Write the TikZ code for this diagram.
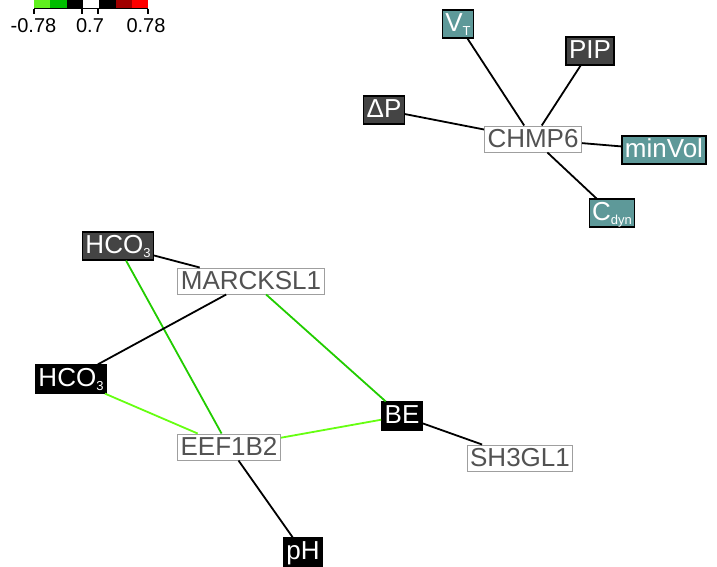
\documentclass[tikz,border=0pt]{standalone}
\usepackage{fontspec}
\setmainfont{Liberation Sans}
\usepackage{xcolor}
\usetikzlibrary{positioning}

\definecolor{trtealfill}{RGB}{94,153,153}
\definecolor{trdarkfill}{RGB}{68,68,68}
\definecolor{corrneg}{RGB}{34,204,0}
\definecolor{corrnegweak}{RGB}{102,255,17}
\definecolor{scalegreen}{RGB}{96,240,30}
\definecolor{scaledgreen}{RGB}{0,190,0}
\definecolor{scaledred}{RGB}{160,0,0}
\definecolor{scalered}{RGB}{255,0,0}

% lowered subscript for trait names
\newcommand{\lsub}[1]{\raisebox{-4.5pt}{\fontsize{13}{13}\selectfont #1}}

\begin{document}
\begin{tikzpicture}[
x=1pt, y=-1pt,
lbl/.style={font=\fontsize{26}{26}\selectfont, inner xsep=3pt, inner ysep=2pt, text height=19pt},
gene/.style={lbl, draw=gray!75, fill=white, text=black!68, line width=1pt, text depth=3pt},
trait/.style={lbl, draw=black, text=white, line width=1.2pt, text depth=5pt},
trdark/.style={trait, fill=trdarkfill},
trblack/.style={trait, fill=black},
trteal/.style={trait, fill=trtealfill},
link/.style={line width=1.8pt},
tick/.style={font=\fontsize{20}{20}\selectfont, anchor=base, inner sep=0pt}
]
\useasboundingbox (0,0) rectangle (717,566);

% colour scale
\foreach \col [count=\i from 0] in {scalegreen,scaledgreen,black,white,black,scaledred,scalered}
  \fill[\col] ({34+\i*16.3},-2) rectangle ({34+(\i+1)*16.3},8);
\draw[line width=1.2pt] (34,8.5) -- (148,8.5);
\foreach \tx in {34,82,98,148}
  \draw[line width=1.2pt] (\tx,8.5) -- (\tx,14);
\node[tick] (tmin) at (33.5,32) {-0.78};
\node[tick] (tmid) at (90,32) {0.7};
\node[tick] (tmax) at (146,32) {0.78};

% CHMP6 module
\node[gene] (chmp6) at (533,139) {CHMP6};
\node[trteal] (vt) at (458,24) {V\lsub{T}};
\node[trdark] (pip) at (590,51) {PIP};
\node[trdark] (dp) at (384,110) {ΔP};
\node[trteal] (minvol) at (664,150) {minVol};
\node[trteal] (cdyn) at (612,213) {C\lsub{dyn}};

\draw[link] (vt) -- (chmp6);
\draw[link] (pip) -- (chmp6);
\draw[link] (dp) -- (chmp6);
\draw[link] (minvol) -- (chmp6);
\draw[link] (cdyn) -- (chmp6);

% MARCKSL1 / EEF1B2 module
\node[trdark] (hco3a) at (118,246) {HCO\lsub{3}};
\node[gene] (marcksl1) at (251,281) {MARCKSL1};
\node[trblack] (hco3b) at (71,379) {HCO\lsub{3}};
\node[gene] (eef1b2) at (229,447) {EEF1B2};
\node[trblack] (be) at (402,416) {BE};
\node[gene] (sh3gl1) at (520,458) {SH3GL1};
\node[trblack] (ph) at (303,552) {pH};

\draw[link] (hco3a) -- (marcksl1);
\draw[link, corrneg] (hco3a) -- (eef1b2);
\draw[link] (marcksl1) -- (hco3b);
\draw[link, corrneg] (marcksl1) -- (be);
\draw[link, corrnegweak] (hco3b) -- (eef1b2);
\draw[link, corrnegweak] (eef1b2) -- (be);
\draw[link] (be) -- (sh3gl1);
\draw[link] (eef1b2) -- (ph);
\end{tikzpicture}
\end{document}
